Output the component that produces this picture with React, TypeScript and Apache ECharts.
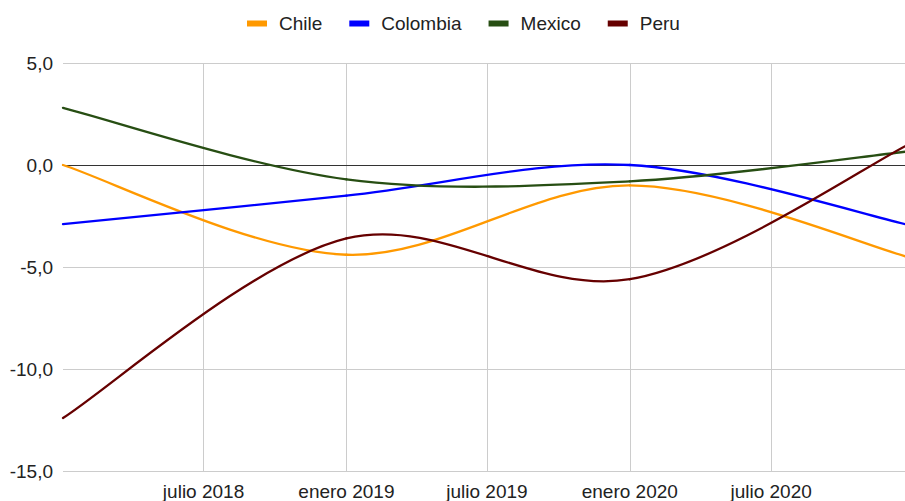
import React, { useEffect, useRef } from "react";
import * as echarts from "echarts";

const dates = ["2018-01-01", "2019-01-01", "2020-01-01", "2021-01-01"];
const chile = [0.0, -4.4, -1.0, -4.6];
const colombia = [-2.9, -1.5, 0.0, -3.0];
const mexico = [2.8, -0.7, -0.8, 0.7];
const peru = [-12.4, -3.6, -5.6, 1.15];
const seriesNames = ["Chile", "Colombia", "Mexico", "Peru"];
const seriesColors = ["#ff9900", "#0000ff", "#274e13", "#660000"];
const xTickDates = ["2018-07-01", "2019-01-01", "2019-07-01", "2020-01-01", "2020-07-01"];
const monthNames = ["enero", "febrero", "marzo", "abril", "mayo", "junio", "julio", "agosto", "septiembre", "octubre", "noviembre", "diciembre"];

const ts = (d: string) => new Date(d + "T00:00:00").getTime();
const FONT = "Liberation Sans, Arial, sans-serif";

export default function App() {
  const ref = useRef<HTMLDivElement>(null);
  useEffect(() => {
    if (!ref.current) return;
    const chart = echarts.init(ref.current, null, { renderer: "svg" });
    const allSeries = [chile, colombia, mexico, peru];
    const tickTs = xTickDates.map(ts);

    const makeRenderItem = (color: string) => (params: any, api: any) => {
      const i = params.dataIndexInside;
      const n = params.dataInsideLength;
      if (i >= n - 1) return null;
      const pt = (k: number) => {
        const kk = Math.max(0, Math.min(n - 1, k));
        return api.coord([api.value(0, kk), api.value(1, kk)]);
      };
      const p0 = pt(i - 1);
      const p1 = pt(i);
      const p2 = pt(i + 1);
      const p3 = pt(i + 2);
      const t1x = (p2[0] - p0[0]) / 2;
      const t1y = (p2[1] - p0[1]) / 2;
      const t2x = (p3[0] - p1[0]) / 2;
      const t2y = (p3[1] - p1[1]) / 2;
      return {
        type: "bezierCurve",
        shape: {
          x1: p1[0],
          y1: p1[1],
          cpx1: p1[0] + t1x / 3,
          cpy1: p1[1] + t1y / 3,
          cpx2: p2[0] - t2x / 3,
          cpy2: p2[1] - t2y / 3,
          x2: p2[0],
          y2: p2[1],
        },
        style: { stroke: color, lineWidth: 2.3, fill: "none", lineCap: "round" },
      };
    };

    chart.setOption({
      animation: false,
      legend: {
        top: 9,
        left: 242,
        icon: "rect",
        itemWidth: 20,
        itemHeight: 6,
        itemGap: 27,
        textStyle: { fontSize: 19, color: "#222", fontFamily: FONT, padding: [0, 0, 0, 7] },
        data: seriesNames,
      },
      grid: { left: 63, right: 6, top: 63, bottom: 29, containLabel: false },
      xAxis: {
        type: "value",
        min: ts(dates[0]),
        max: ts(dates[dates.length - 1]),
        axisLine: { onZero: true, lineStyle: { color: "#333", width: 1 } },
        axisTick: { show: false, customValues: tickTs },
        axisLabel: {
          customValues: tickTs,
          fontSize: 19,
          color: "#222",
          fontFamily: FONT,
          margin: 11,
          formatter: (v: number) => {
            const d = new Date(v);
            return monthNames[d.getMonth()] + " " + d.getFullYear();
          },
        },
        splitLine: { show: true, lineStyle: { color: "#cccccc", width: 1 } },
      },
      yAxis: {
        type: "value",
        min: -15,
        max: 5,
        interval: 5,
        axisLine: { show: false },
        axisTick: { show: false },
        axisLabel: {
          fontSize: 19,
          color: "#222",
          fontFamily: FONT,
          margin: 10,
          formatter: (v: number) => v.toFixed(1).replace(".", ","),
        },
        splitLine: { lineStyle: { color: "#cccccc", width: 1 } },
      },
      series: seriesNames.map((name, i) => ({
        name,
        type: "custom",
        color: seriesColors[i],
        itemStyle: { color: seriesColors[i] },
        renderItem: makeRenderItem(seriesColors[i]),
        encode: { x: 0, y: 1 },
        data: dates.map((d, j) => [ts(d), allSeries[i][j]]),
      })),
    });
    return () => chart.dispose();
  }, []);
  return (
    <div style={{ position: "absolute", left: 0, top: 0, width: 905, height: 501, overflow: "hidden", background: "#fff" }}>
      <div ref={ref} style={{ width: 920, height: 501 }} />
    </div>
  );
}
